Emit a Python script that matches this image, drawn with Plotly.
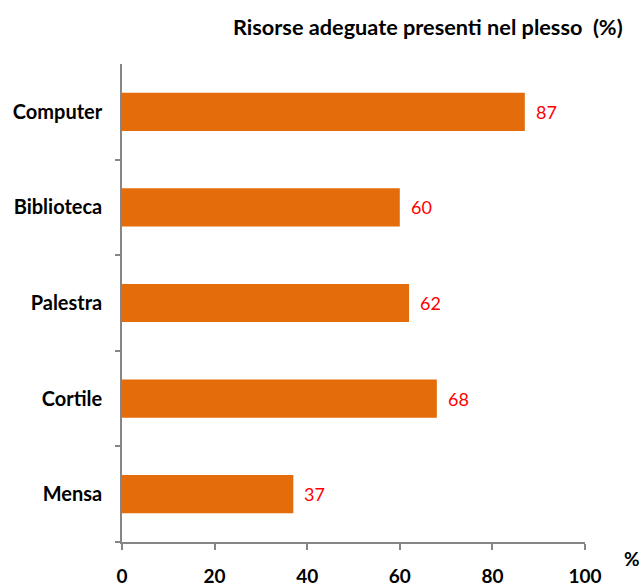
import plotly.graph_objects as go

categories = ["Computer", "Biblioteca", "Palestra", "Cortile", "Mensa"]
values = [87, 60, 62, 68, 37]
x_ticks = [0, 20, 40, 60, 80, 100]
title_text = "Risorse adeguate presenti nel plesso  (%)"

FONT = "Lato"
axis_grey = "#868686"

fig = go.Figure()
fig.add_trace(go.Bar(
    x=values,
    y=categories,
    orientation="h",
    marker=dict(color="#E46C0A", line=dict(width=0)),
    hoverinfo="skip",
))

for c, v in zip(categories, values):
    fig.add_annotation(
        x=v, y=c, xref="x", yref="y",
        text=str(v), showarrow=False,
        xanchor="left", yanchor="middle", xshift=9,
        font=dict(family=FONT, size=18, color="#FF0000"),
    )

fig.add_annotation(
    x=1.0, y=1.0, xref="paper", yref="paper",
    text="<b>" + title_text + "</b>", showarrow=False,
    xanchor="right", yanchor="middle", xshift=40, yshift=37,
    font=dict(family=FONT, size=21.7, color="#000000"),
)
fig.add_annotation(
    x=1.0, y=0.0, xref="paper", yref="paper",
    text="<b>%</b>", showarrow=False,
    xanchor="center", yanchor="middle", xshift=47, yshift=-16,
    font=dict(family=FONT, size=19, color="#000000"),
)

fig.update_layout(
    width=643, height=584,
    margin=dict(l=122, r=58, t=64, b=42),
    paper_bgcolor="white", plot_bgcolor="white",
    showlegend=False,
    bargap=0.6,
    font=dict(family=FONT, size=20, color="#000000"),
)
fig.update_xaxes(
    range=[0, 100],
    tickvals=x_ticks,
    ticktext=["<b>%d</b>" % t for t in x_ticks],
    showgrid=False, zeroline=False,
    showline=True, linecolor=axis_grey, linewidth=1.5,
    ticks="outside", ticklen=6, tickcolor=axis_grey, tickwidth=1.5,
    ticklabelstandoff=10,
    tickfont=dict(family=FONT, size=19, color="#000000"),
    automargin=False,
    fixedrange=True,
)
fig.update_yaxes(
    categoryorder="array", categoryarray=categories[::-1],
    ticktext=["<b>%s</b>" % c for c in categories], tickvals=categories,
    showgrid=False, zeroline=False,
    showline=True, linecolor=axis_grey, linewidth=1.5,
    ticks="outside", ticklen=5, tickcolor=axis_grey, tickwidth=1.5,
    tickson="boundaries",
    ticklabelstandoff=14,
    tickfont=dict(family=FONT, size=20, color="#000000"),
    automargin=False,
    fixedrange=True,
)

fig.write_html(
    "out.html",
    config={"displayModeBar": False},
    post_script="document.body.style.margin='0';"
                "document.documentElement.style.overflow='hidden';",
)
